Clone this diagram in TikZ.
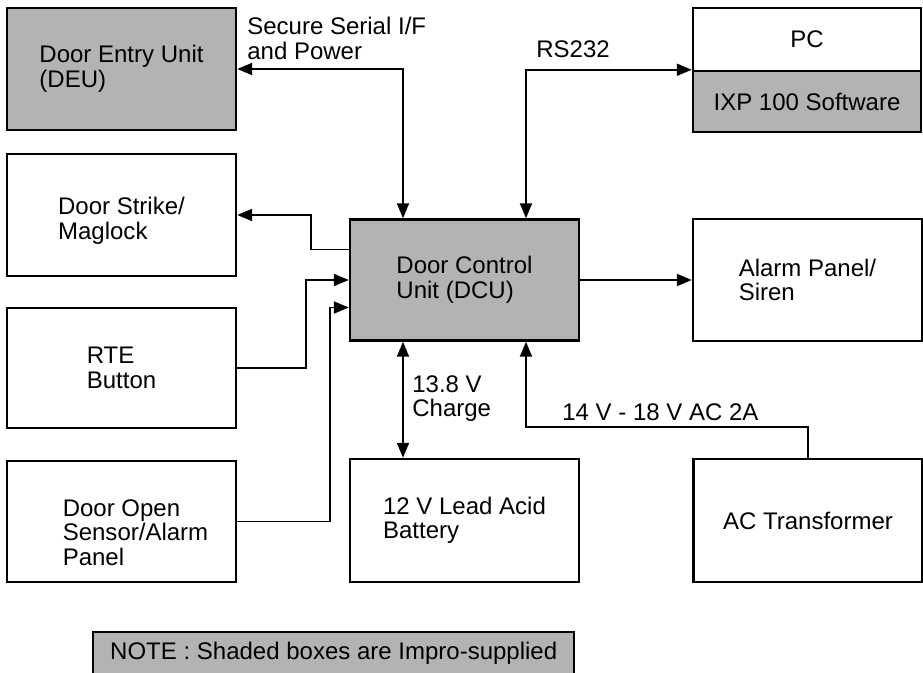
\documentclass[tikz,border=0pt]{standalone}
\usepackage{fontspec}
\setmainfont{Liberation Sans}
\usepackage{xcolor}
\usetikzlibrary{arrows.meta,positioning,calc}
\definecolor{shade}{HTML}{B3B3B3}
\tikzset{
  box/.style={draw=black, line width=1.4pt, align=left, fill=white, inner sep=0pt, minimum width=45.8mm, minimum height=24.4mm},
  shadedbox/.style={box, fill=shade},
  arrow/.style={-{Triangle[length=3mm,width=2.4mm]}, line width=1.1pt},
  biarrow/.style={{Triangle[length=3mm,width=2.4mm]}-{Triangle[length=3mm,width=2.4mm]}, line width=1.1pt},
  tag/.style={align=left, inner sep=0pt, anchor=north west}
}

\begin{document}
\begin{tikzpicture}[font=\fontsize{13.66}{13.9}\selectfont]
  \path[use as bounding box, clip] (0,0) rectangle (18.46,13.44);

  \node[shadedbox] (deu) at (2.43,12.06) {Door Entry Unit\\(DEU)};
  \node[box] (strike) at (2.43,9.14) {};
  \node[align=left, inner sep=0pt] (striketext) at ([yshift=-1.2mm]strike.center) {Door Strike/\\Maglock};
  \node[box, minimum height=24mm] (rte) at (2.43,6.08) {RTE\\Button};
  \node[box, minimum height=24.2mm] (sensor) at (2.43,3.01) {};
  \node[align=left, inner sep=0pt] (sensortext) at ([xshift=2.8mm,yshift=-2.2mm]sensor.center)
    {Door Open\\Sensor/Alarm\\Panel};

  \node[shadedbox, minimum height=24.2mm] (dcu) at (9.29,7.84) {Door Control\\Unit (DCU)};
  \node[box, minimum height=24.6mm] (battery) at (9.29,3.03) {12 V Lead Acid\\Battery};

  \node[box, minimum width=45.6mm, minimum height=12.6mm] (pc) at (16.14,12.65) {PC};
  \node[shadedbox, minimum width=45.6mm, minimum height=12.2mm] (pcsw) at (16.14,11.41) {IXP 100 Software};
  \node[box] (alarm) at (16.15,7.84) {Alarm Panel/\\Siren};
  \node[box, minimum height=24.6mm] (ac) at (16.16,3.03) {AC Transformer};

  \node[shadedbox, anchor=north west, minimum width=96.2mm, minimum height=0pt,
    text height=3.5mm, text depth=7mm, inner ysep=1.9mm] (note) at (1.84,0.82)
    {NOTE : Shaded boxes are Impro-supplied};

  \node[tag] (serial) at (4.94,13.1) {Secure Serial I/F\\and Power};
  \node[tag] (rs) at (10.72,12.64) {RS232};
  \node[tag] (charge) at (8.24,5.94) {13.8 V\\Charge};
  \node[tag] (acin) at (11.24,5.38) {14 V - 18 V AC 2A};

  \draw[biarrow] (deu.east) -| ([xshift=-12.3mm]dcu.north);
  \draw[biarrow] ([xshift=12.3mm]dcu.north) |- (pcsw.north west);
  \draw[arrow] ([yshift=6.1mm]dcu.west) -- ++(-7.6mm,0) |- (strike.east);
  \draw[arrow] (rte.east) -- ++(13.8mm,0) |- (dcu.west);
  \draw[arrow] (sensor.east) -- ++(18.6mm,0) |- ([yshift=-5.5mm]dcu.west);
  \draw[arrow] (dcu.east) -- (alarm.west);
  \draw[biarrow] ([xshift=-12.3mm]dcu.south) -- ([xshift=-12.3mm]battery.north);
  \draw[arrow] (ac.north) -- ++(0,6.2mm) -| ([xshift=12.3mm]dcu.south);
\end{tikzpicture}
\end{document}
